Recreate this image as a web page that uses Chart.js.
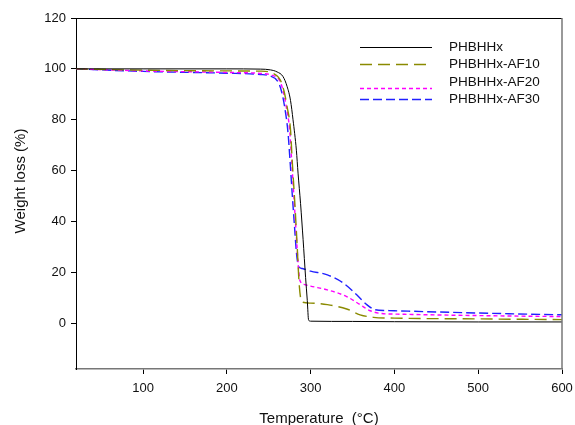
<!DOCTYPE html>
<html>
<head>
<meta charset="utf-8">
<script src="https://cdn.jsdelivr.net/npm/chart.js@4.4.1/dist/chart.umd.min.js"></script>
<style>
  html, body { margin: 0; padding: 0; background: #fff; }
</style>
</head>
<body>
<canvas id="tga" width="575" height="425"></canvas>
<script>
// TGA curves: remaining weight (%) against temperature (°C)
var seriesNames = ['PHBHHx', 'PHBHHx-AF10', 'PHBHHx-AF20', 'PHBHHx-AF30'];

var pureTemp   = [20, 100, 200, 240, 252, 260, 267, 272, 276, 279, 283, 285, 288, 291, 294, 296, 297.6, 300, 350, 400, 500, 600];
var pureWeight = [100, 100, 100, 99.9, 99.6, 98.8, 97, 93, 87.6, 80, 68, 59, 47, 33, 18, 9, 1.2, 0.8, 0.7, 0.6, 0.5, 0.5];

var af10Temp   = [20, 100, 200, 240, 254, 264, 268, 272, 276, 278, 281, 284, 286, 288, 290, 300, 320, 343, 359, 375, 400, 500, 600];
var af10Weight = [100, 99.5, 99.2, 99.1, 98.4, 95.5, 91.6, 85, 76, 64, 48, 30, 17, 10, 8.3, 7.9, 7.3, 5.6, 3.3, 2.3, 2.0, 1.7, 1.4];

var af20Temp   = [20, 100, 200, 240, 253, 263, 267, 271, 275, 277, 280, 283, 285, 287, 292, 300, 320, 343, 359, 371, 385, 400, 500, 600];
var af20Weight = [100, 99.2, 98.6, 98.2, 97.6, 95.4, 91.6, 85, 76, 66, 50, 34, 24, 17, 15.3, 14.6, 13.1, 10.5, 7.3, 4.9, 3.8, 3.6, 3.0, 2.6];

var af30Temp   = [20, 100, 200, 240, 251, 261, 265, 269, 273, 275, 278, 281, 283, 285.6, 290, 300, 320, 339, 355, 367, 377, 390, 400, 500, 600];
var af30Weight = [100, 99, 98.3, 97.8, 97.3, 95, 91.5, 85, 75, 66, 51, 37, 28, 22.3, 21.5, 20.5, 19, 15.8, 11.2, 7.3, 5.3, 5, 4.9, 4.0, 3.3];

var xTicks = [100, 200, 300, 400, 500, 600];
var yTicks = [0, 20, 40, 60, 80, 100, 120];

function toPoints(xs, ys) {
    var pts = [];
    for (var i = 0; i < xs.length; i++) {
        pts.push({x: xs[i], y: ys[i]});
    }
    return pts;
}

var FONT = '"Liberation Sans", Arial, sans-serif';

// frame on top/right, legend and axis titles
var decorations = {
    id: 'decorations',
    afterDraw: function(chart) {
        var ctx = chart.ctx;
        var a = chart.chartArea;
        ctx.save();
        ctx.lineWidth = 1;
        ctx.strokeStyle = '#000';
        ctx.beginPath();
        ctx.moveTo(a.left, a.top + 0.5);
        ctx.lineTo(a.right, a.top + 0.5);
        ctx.stroke();
        ctx.strokeStyle = '#777';
        ctx.lineWidth = 1.5;
        ctx.beginPath();
        ctx.moveTo(a.right, a.top);
        ctx.lineTo(a.right, a.bottom);
        ctx.stroke();

        // legend
        var lineYs = [47, 64, 88, 99];
        var textYs = [47, 64, 82, 99];
        ctx.font = '13.5px ' + FONT;
        ctx.textBaseline = 'middle';
        ctx.textAlign = 'left';
        chart.data.datasets.forEach(function(ds, i) {
            ctx.strokeStyle = ds.borderColor;
            ctx.lineWidth = ds.borderWidth;
            ctx.setLineDash(ds.borderDash || []);
            ctx.beginPath();
            ctx.moveTo(360, lineYs[i] + 0.5);
            ctx.lineTo(432, lineYs[i] + 0.5);
            ctx.stroke();
            ctx.setLineDash([]);
            ctx.fillStyle = '#111';
            ctx.fillText(ds.label, 449, textYs[i]);
        });

        // axis titles
        ctx.fillStyle = '#111';
        ctx.font = '15px ' + FONT;
        ctx.textAlign = 'center';
        ctx.textBaseline = 'middle';
        ctx.fillText('Temperature  (°C)', (a.left + a.right) / 2, 419);
        ctx.translate(21, 181);
        ctx.rotate(-Math.PI / 2);
        ctx.fillText('Weight loss (%)', 0, 0);
        ctx.restore();
    }
};

var lineBase = {
    fill: false,
    pointRadius: 0,
    cubicInterpolationMode: 'monotone',
    borderWidth: 1.4
};

new Chart(document.getElementById('tga'), {
    type: 'line',
    data: {
        datasets: [
            Object.assign({}, lineBase, {label: seriesNames[0], data: toPoints(pureTemp, pureWeight), borderColor: '#000000', borderWidth: 1}),
            Object.assign({}, lineBase, {label: seriesNames[1], data: toPoints(af10Temp, af10Weight), borderColor: '#8a8a00', borderDash: [12, 6]}),
            Object.assign({}, lineBase, {label: seriesNames[2], data: toPoints(af20Temp, af20Weight), borderColor: '#ff00ff', borderDash: [4, 3]}),
            Object.assign({}, lineBase, {label: seriesNames[3], data: toPoints(af30Temp, af30Weight), borderColor: '#2020ff', borderDash: [9, 4]})
        ]
    },
    options: {
        responsive: false,
        animation: false,
        layout: {padding: {left: 0, top: 18, right: 13, bottom: 0}},
        plugins: {legend: {display: false}, tooltip: {enabled: false}},
        scales: {
            x: {
                type: 'linear',
                min: 20,
                max: 600,
                afterBuildTicks: function(s) { s.ticks = xTicks.map(function(v) { return {value: v}; }); },
                afterFit: function(s) { s.height = 56; s.paddingLeft = 0; s.paddingRight = 0; },
                ticks: {font: {family: FONT, size: 13}, color: '#111', padding: 7, maxRotation: 0},
                grid: {drawOnChartArea: false, drawTicks: true, tickLength: 5, color: '#000'},
                border: {display: true, color: '#777', width: 1.5}
            },
            y: {
                type: 'linear',
                min: -18,
                max: 120,
                afterBuildTicks: function(s) { s.ticks = yTicks.map(function(v) { return {value: v}; }); },
                afterFit: function(s) { s.width = 76; s.paddingTop = 0; s.paddingBottom = 0; },
                ticks: {font: {family: FONT, size: 13}, color: '#111', padding: 5},
                grid: {drawOnChartArea: false, drawTicks: true, tickLength: 5, color: '#000'},
                border: {display: true, color: '#000'}
            }
        }
    },
    plugins: [decorations]
});
</script>
</body>
</html>
